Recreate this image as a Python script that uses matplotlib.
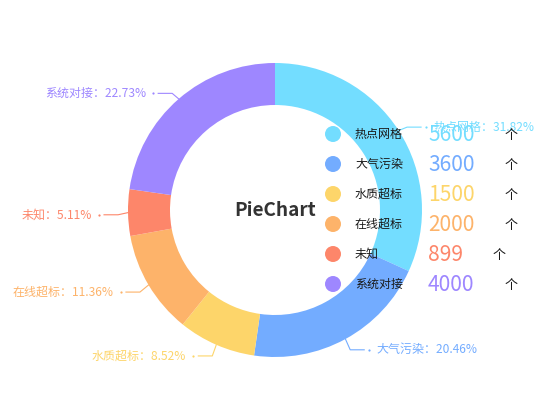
import matplotlib
matplotlib.use("Agg")
import matplotlib.pyplot as plt
import numpy as np

plt.rcParams['font.family'] = ['Noto Sans CJK SC', 'DejaVu Sans']

names = ['热点网格', '大气污染', '水质超标', '在线超标', '未知', '系统对接']
values = [5600, 3600, 1500, 2000, 899, 4000]
colors = ['#73DDFF', '#73ACFF', '#FDD56A', '#FDB36A', '#FD866A', '#9E87FF']
unit = '个'
title = 'PieChart'

W, H = 550, 420
PT = 0.72  # px -> pt at dpi 100

fig = plt.figure(figsize=(W / 100, H / 100), dpi=100)
ax = fig.add_axes([0, 0, 1, 1])

cx, cy = 275, 210
R_out, R_in = 147, 105

wedges, _ = ax.pie(values, colors=colors, startangle=90, counterclock=False,
                   radius=R_out, center=(cx, cy),
                   wedgeprops=dict(width=R_out - R_in, edgecolor='none', linewidth=0))
ax.set_xlim(0, W)
ax.set_ylim(0, H)
ax.set_aspect('equal')
ax.axis('off')

total = sum(values)
for w, name, v, c in zip(wedges, names, values, colors):
    mid = np.deg2rad((w.theta1 + w.theta2) / 2)
    ux, uy = np.cos(mid), np.sin(mid)
    p0 = (cx + R_out * ux, cy + R_out * uy)
    p1 = (cx + (R_out + 10) * ux, cy + (R_out + 10) * uy - 2)
    side = 1 if ux >= 0 else -1
    p2 = (p1[0] + side * 14, p1[1])
    ax.plot([p0[0], p1[0], p2[0]], [p0[1], p1[1], p2[1]], color=c, lw=0.8, zorder=3)
    ax.plot([p2[0] + side * 5], [p2[1]], marker='o', ms=1.6, color=c, mec='none', zorder=3)
    pct = v / total * 100
    ax.text(p2[0] + side * 12, p2[1], f'{name}：{pct:.2f}%', color=c,
            fontsize=12 * PT, ha='left' if side > 0 else 'right', va='center', zorder=4)

ax.text(cx, cy, title, fontsize=19 * PT, fontweight='bold', color='#333333',
        ha='center', va='center', zorder=5)

# custom legend
leg_x = 333
leg_top = H - 134
leg_step = 30
for i, (name, v, c) in enumerate(zip(names, values, colors)):
    y = leg_top - i * leg_step
    ax.scatter([leg_x], [y], s=(16 * PT) ** 2, color=c, edgecolors='none', zorder=6)
    ax.text(leg_x + 22, y, name, fontsize=12 * PT, color='#1a1a1a', ha='left',
            va='center', zorder=6)
    t = ax.text(428, y - 1, str(v), fontsize=21 * PT, color=c, ha='left',
                va='center', fontweight=300, zorder=6)
    ax.annotate(unit, xy=(1, 0.5), xycoords=t, xytext=(30 * PT, 0),
                textcoords='offset points', fontsize=13 * PT, color='#1a1a1a',
                ha='left', va='center', zorder=6)

fig.savefig('out.png', dpi=100)
